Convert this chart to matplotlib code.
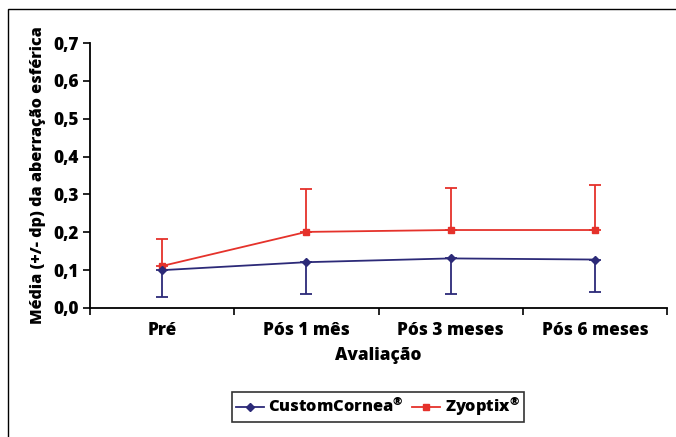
import matplotlib
matplotlib.use("Agg")
import matplotlib.pyplot as plt
from matplotlib.patches import Rectangle
from matplotlib.lines import Line2D
import numpy as np

categories = ["Pré", "Pós 1 mês", "Pós 3 meses", "Pós 6 meses"]
custom_mean = [0.100, 0.121, 0.131, 0.128]
custom_err_low = [0.072, 0.084, 0.094, 0.085]
zyoptix_mean = [0.111, 0.201, 0.206, 0.206]
zyoptix_err_high = [0.070, 0.114, 0.110, 0.120]
yticks = [0.0, 0.1, 0.2, 0.3, 0.4, 0.5, 0.6, 0.7]
ytick_labels = ["0,0", "0,1", "0,2", "0,3", "0,4", "0,5", "0,6", "0,7"]

FONT = 'Open Sans'
plt.rcParams['font.family'] = [FONT, 'DejaVu Sans']
plt.rcParams['mathtext.fontset'] = 'custom'
plt.rcParams['mathtext.rm'] = FONT + ':heavy'
plt.rcParams['mathtext.bf'] = FONT + ':heavy'
WEIGHT = 'heavy'
FS = 12.3

W, H = 676, 437
fig = plt.figure(figsize=(W/100, H/100), dpi=100)
fig.patch.set_facecolor('white')

# outer frame
fig.add_artist(Rectangle((8/W, -0.05), 1.2, 1 - 9/H + 0.05, transform=fig.transFigure,
                         fill=False, edgecolor='black', linewidth=1.0))

ax = fig.add_axes([90/W, 1 - 308/H, (667-90)/W, (308-43)/H])
x = np.arange(len(categories))
blue = '#2C2A78'
red = '#E5322B'

ax.errorbar(x, custom_mean, yerr=[custom_err_low, [0]*4], color=blue, marker='D',
            markersize=4, linewidth=1.3, capsize=4, capthick=1.3, elinewidth=1.3, zorder=3)
ax.errorbar(x, zyoptix_mean, yerr=[[0]*4, zyoptix_err_high], color=red, marker='s',
            markersize=5, linewidth=1.3, capsize=4, capthick=1.3, elinewidth=1.3, zorder=2)

ax.set_xlim(-0.5, len(categories) - 0.5)
ax.set_ylim(0, 0.7)
ax.set_yticks(yticks)
ax.set_yticklabels(ytick_labels, fontsize=FS, fontweight=WEIGHT)
ax.set_xticks(x)
ax.set_xticklabels(categories, fontsize=FS, fontweight=WEIGHT)
ax.tick_params(axis='x', length=0, pad=10)
ax.set_xticks(np.arange(-0.5, len(categories)), minor=True)
ax.tick_params(axis='x', which='minor', length=5, width=1.2, direction='out')
ax.tick_params(axis='y', length=5, width=1.2, direction='out', pad=3)
for s in ['top', 'right']:
    ax.spines[s].set_visible(False)
for s in ['left', 'bottom']:
    ax.spines[s].set_linewidth(1.3)

ax.set_ylabel("Média (+/- dp) da aberração esférica", fontsize=11.6, fontweight=WEIGHT, labelpad=5)
ax.set_xlabel("Avaliação", fontsize=FS, fontweight=WEIGHT, labelpad=6)

handles = [Line2D([], [], color=blue, marker='D', markersize=4, linewidth=1.3),
           Line2D([], [], color=red, marker='s', markersize=5, linewidth=1.3)]
labels = ['CustomCornea$^{®}$', 'Zyoptix$^{®}$']
leg = fig.legend(handles, labels, loc='center', bbox_to_anchor=(378/W, 1 - 407/H), ncol=2,
                 frameon=True, fancybox=False, edgecolor='black',
                 handlelength=1.7, columnspacing=0.5, handletextpad=0.3, borderpad=0.25,
                 prop={'family': [FONT, 'DejaVu Sans'], 'weight': WEIGHT, 'size': 11.8})
leg.get_frame().set_linewidth(1.2)

fig.savefig("out.png", dpi=100)
